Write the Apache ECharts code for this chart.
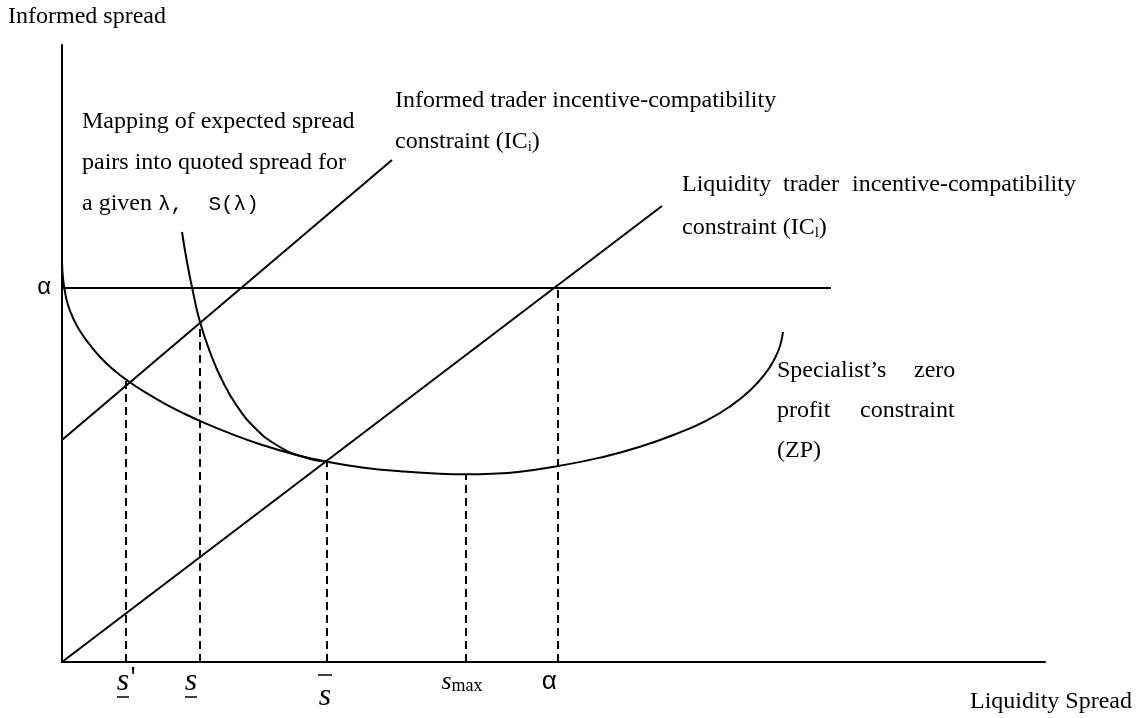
<!DOCTYPE html>
<html>
<head>
<meta charset="utf-8">
<script src="https://cdn.jsdelivr.net/npm/echarts@6/dist/echarts.min.js"></script>
<style>
  html, body { margin: 0; padding: 0; background: #fff; }
  #chart { width: 1140px; height: 718px; }
</style>
</head>
<body>
<div id="chart"></div>
<script>
// ---------- data (axis units: x = liquidity spread, y = informed spread) ----------
const xAxisName = 'Liquidity Spread';
const yAxisName = 'Informed spread';
const xMax = 983;
const yMax = 617;

const alphaLevel = 374;                      // informed spread = α
const alphaLine = [[0, 374], [769, 374]];
const icInformed = [[0, 222], [330, 502]];   // IC_i
const icLiquidity = [[0, 0], [600, 456]];    // IC_l
const zpCurve = [
  [0, 400], [1, 384], [3, 370], [6, 357], [11, 344], [18, 331], [28, 317],
  [40, 303], [53, 291], [66, 281], [83, 269.8], [103, 258.2], [123, 248],
  [143, 238.8], [168, 228.6], [198, 217.8], [230, 208.2], [265, 200.2],
  [300, 194.6], [340, 190.6], [378, 188.3], [404, 187.8], [430, 188.3],
  [458, 190.3], [496, 196], [538, 204.4], [578, 215.2], [618, 229.6],
  [645, 241.7], [668, 255.5], [688, 271.5], [703, 288], [713, 304],
  [718, 316], [721, 330]
];
const sLambdaCurve = [
  [120, 430], [125, 400], [131, 370], [138, 340], [148, 310], [160, 282],
  [175, 256], [193, 234], [213, 218], [238, 206], [265, 200]
];
// dashed drop lines: x positions and the height they start from
const dropX = [64, 138, 265, 404, 496];
const dropY = [281, 340, 200, 188, 374];
// bottom labels
const tickLabels = ["s'", 's', 's', 'smax', 'α'];
const tickLabelX = [64, 129, 263, 400, 487];

// ---------- chart ----------
const chart = echarts.init(document.getElementById('chart'), null, { renderer: 'canvas' });
const serif = '"Liberation Serif", "Times New Roman", serif';
const mono = '"Liberation Mono", monospace';
const lineStyle = { color: '#000', width: 2 };

const series = [];
function addLine(data, smooth, dashed) {
  series.push({
    type: 'line', data: data, smooth: smooth,
    showSymbol: false, symbol: 'none',
    silent: true, animation: false, clip: false,
    lineStyle: { color: '#000', width: 2, type: dashed ? [8, 5] : 'solid' }
  });
}
addLine(alphaLine, false, false);
addLine(icInformed, false, false);
addLine(icLiquidity, false, false);
addLine(zpCurve, 0.5, false);
addLine(sLambdaCurve, 0.5, false);
for (let i = 0; i < dropX.length; i++) {
  addLine([[dropX[i], 0], [dropX[i], dropY[i]]], false, true);
}

chart.setOption({
  animation: false,
  backgroundColor: '#fff',
  grid: { left: 62, top: 45, right: 95, bottom: 56, containLabel: false },
  xAxis: {
    type: 'value', min: 0, max: xMax,
    axisLine: { show: true, onZero: false, lineStyle: lineStyle },
    axisTick: { show: false }, axisLabel: { show: false }, splitLine: { show: false }
  },
  yAxis: {
    type: 'value', min: 0, max: yMax,
    axisLine: { show: true, onZero: false, lineStyle: lineStyle },
    axisTick: { show: false }, axisLabel: { show: false }, splitLine: { show: false }
  },
  series: series
});

// ---------- texts ----------
function px(x, y) { return chart.convertToPixel({ gridIndex: 0 }, [x, y]); }
function txt(x, y, text, size, extra) {
  return {
    type: 'text', x: x, y: y, silent: true,
    style: Object.assign({
      text: text, fill: '#000', fontFamily: serif, fontSize: size || 24,
      align: 'left', verticalAlign: 'middle'
    }, extra || {})
  };
}
function subText(x, y, main, sub) {
  return {
    type: 'text', x: x, y: y, silent: true,
    style: {
      text: '{n|' + main + '}{s|' + sub + '}{n|)}', align: 'left', verticalAlign: 'middle',
      rich: {
        n: { fontFamily: serif, fontSize: 24, fill: '#000', lineHeight: 26, verticalAlign: 'middle' },
        s: { fontFamily: serif, fontSize: 15, fill: '#000', lineHeight: 15, verticalAlign: 'bottom' }
      }
    }
  };
}
const g = [];
g.push(txt(8, 17, yAxisName, 24));
g.push(txt(970, 702, xAxisName, 24));

// left α
const aPix = px(0, alphaLevel);
g.push(txt(aPix[0] - 18, aPix[1], 'α', 24, { align: 'center', fontFamily: mono }));

// Mapping annotation
g.push(txt(82, 122, 'Mapping of expected spread', 24));
g.push(txt(82, 163, 'pairs into quoted spread for', 24));
g.push({
  type: 'text', x: 82, y: 204, silent: true,
  style: {
    text: '{a|a given }{b|λ,  S(λ)}', align: 'left', verticalAlign: 'middle',
    rich: {
      a: { fontFamily: serif, fontSize: 24, fill: '#000' },
      b: { fontFamily: mono, fontSize: 21, fill: '#000' }
    }
  }
});

// Informed IC
g.push(txt(395, 101, 'Informed trader incentive-compatibility', 24));
g.push(subText(395, 142, 'constraint (IC', 'i'));

// Liquidity IC (justified)
g.push(txt(682, 185, 'Liquidity', 24));
g.push(txt(783, 185, 'trader', 24));
g.push(txt(852, 185, 'incentive-compatibility', 24));
g.push(subText(682, 228, 'constraint (IC', 'l'));

// ZP annotation (justified)
g.push(txt(777, 371, 'Specialist’s', 24));
g.push(txt(914, 371, 'zero', 24));
g.push(txt(777, 411, 'profit', 24));
g.push(txt(860, 411, 'constraint', 24));
g.push(txt(777, 451, '(ZP)', 24));

// bottom labels
const italic = { fontStyle: 'italic' };
tickLabels.forEach(function (lab, i) {
  const p = px(tickLabelX[i], 0);
  const cx = p[0];
  if (i === 0) { // s' underlined with prime
    g.push(txt(cx - 3, 682, 's', 32, Object.assign({ align: 'center' }, italic)));
    g.push(txt(cx + 7, 677, "'", 22, { align: 'center', fontFamily: mono }));
    g.push({ type: 'line', silent: true, shape: { x1: cx - 9, y1: 697, x2: cx + 3, y2: 697 }, style: { stroke: '#000', lineWidth: 1.5 } });
  } else if (i === 1) { // underlined s
    g.push(txt(cx, 682, lab, 32, Object.assign({ align: 'center' }, italic)));
    g.push({ type: 'line', silent: true, shape: { x1: cx - 6, y1: 697, x2: cx + 6, y2: 697 }, style: { stroke: '#000', lineWidth: 1.5 } });
  } else if (i === 2) { // overlined s
    g.push(txt(cx, 697, lab, 32, Object.assign({ align: 'center' }, italic)));
    g.push({ type: 'line', silent: true, shape: { x1: cx - 7, y1: 675, x2: cx + 7, y2: 675 }, style: { stroke: '#000', lineWidth: 1.5 } });
  } else if (i === 3) { // s_max
    g.push({
      type: 'text', x: cx, y: 682, silent: true,
      style: {
        text: '{s|s}{m|max}', align: 'center', verticalAlign: 'middle',
        rich: {
          s: { fontFamily: serif, fontStyle: 'italic', fontSize: 26, fill: '#000', lineHeight: 26 },
          m: { fontFamily: serif, fontSize: 18, fill: '#000', lineHeight: 18, verticalAlign: 'bottom' }
        }
      }
    });
  } else { // α
    g.push(txt(cx, 682, lab, 26, { align: 'center', fontFamily: mono }));
  }
});

chart.setOption({ graphic: g });
</script>
</body>
</html>
